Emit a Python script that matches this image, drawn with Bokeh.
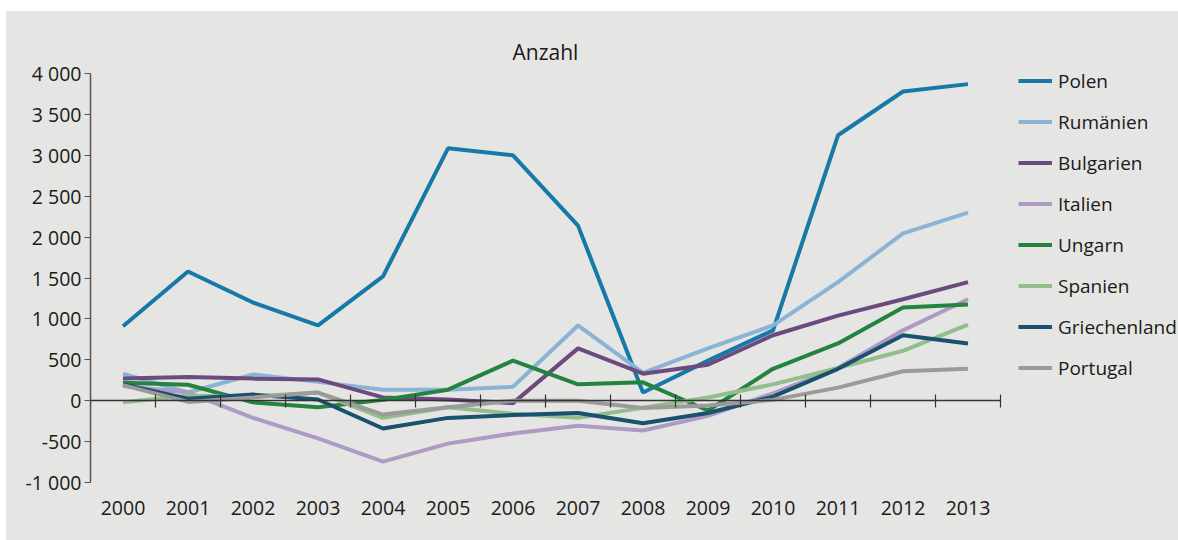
from bokeh.plotting import figure
from bokeh.models import (Range1d, LinearAxis, FixedTicker, Legend, LegendItem, Spacer, Label)
from bokeh.layouts import column, row
from bokeh.embed import file_html
from bokeh.resources import INLINE

years = ["2000", "2001", "2002", "2003", "2004", "2005", "2006",
         "2007", "2008", "2009", "2010", "2011", "2012", "2013"]

polen = [910, 1580, 1200, 920, 1520, 3085, 3000, 2140, 100, 490, 860, 3245, 3780, 3870]
rumaenien = [330, 100, 320, 230, 135, 135, 170, 920, 340, 640, 920, 1450, 2045, 2300]
bulgarien = [270, 290, 270, 260, 40, 15, -30, 640, 330, 440, 800, 1040, 1240, 1450]
italien = [180, 100, -210, -460, -745, -525, -400, -305, -365, -185, 90, 400, 860, 1240]
ungarn = [220, 195, -20, -80, 10, 135, 490, 200, 225, -120, 390, 700, 1140, 1175]
spanien = [-20, 60, 50, 100, -210, -80, -160, -210, -85, 40, 200, 400, 610, 930]
griechenland = [200, 25, 75, 15, -340, -210, -175, -150, -275, -150, 50, 390, 800, 700]
portugal = [190, -15, 40, 100, -170, -80, 0, 0, -90, -60, 10, 160, 360, 390]

series_names = ["Polen", "Rumänien", "Bulgarien", "Italien", "Ungarn",
                "Spanien", "Griechenland", "Portugal"]
series_values = [polen, rumaenien, bulgarien, italien, ungarn,
                 spanien, griechenland, portugal]
series_colors = ["#1779a7", "#8ab3d6", "#6c4a7d", "#ae9bc3", "#24843f",
                 "#92be8b", "#19516f", "#9b9b9b"]

y_ticks = [-1000, -500, 0, 500, 1000, 1500, 2000, 2500, 3000, 3500, 4000]
y_labels = ["-1 000", "-500", "0", "500", "1 000", "1 500", "2 000",
            "2 500", "3 000", "3 500", "4 000"]
unit_label = "Anzahl"

FONT = "Open Sans"
FS = "19.5px"
TXT = "#1a1a1a"
BG = "#e5e5e3"

n = len(years)
x = list(range(n))

# layout: category area is 910 px wide (65 px per year), value axis 409 px
# for 5000 units; the frame is extended right (legend) and up (unit label)
FIG_W, FIG_H = 1172, 529
LEFT, TOP, BOTTOM = 84, 30, 58
frame_w = FIG_W - LEFT
frame_h = FIG_H - TOP - BOTTOM
cat_px = 910 / n
val_px = 409 / 5000
x_end = -0.5 + frame_w / cat_px
y_end = -1000 + frame_h / val_px

p = figure(width=FIG_W, height=FIG_H, output_backend="svg", toolbar_location=None,
           x_range=Range1d(-0.5, x_end), y_range=Range1d(-1000, y_end),
           x_axis_location=None, y_axis_location=None,
           min_border_left=LEFT, min_border_right=0, min_border_top=TOP,
           min_border_bottom=BOTTOM)
p.background_fill_color = None
p.border_fill_color = None
p.styles = {"background-color": BG}
p.outline_line_color = None
p.xgrid.visible = False
p.ygrid.visible = False

# y axis
yax = LinearAxis(ticker=FixedTicker(ticks=y_ticks), bounds=(-1000, 4000),
                 major_label_overrides={t: l for t, l in zip(y_ticks, y_labels)})
yax.axis_line_color = "#555555"
yax.axis_line_width = 1.5
yax.major_tick_line_color = "#555555"
yax.major_tick_line_width = 1.2
yax.major_tick_in = 0
yax.major_tick_out = 6
yax.minor_tick_line_color = None
yax.major_label_standoff = 3
yax.major_label_text_font = FONT
yax.major_label_text_font_size = FS
yax.major_label_text_color = TXT
p.add_layout(yax, "left")

# category labels at the bottom
xlab = LinearAxis(ticker=FixedTicker(ticks=x),
                  major_label_overrides={i: y for i, y in zip(x, years)})
xlab.axis_line_color = None
xlab.major_tick_line_color = None
xlab.minor_tick_line_color = None
xlab.major_tick_out = 0
xlab.major_tick_in = 0
xlab.major_label_standoff = 18
xlab.major_label_text_font = FONT
xlab.major_label_text_font_size = FS
xlab.major_label_text_color = TXT
p.add_layout(xlab, "below")

# zero line axis with ticks between categories
bounds = [i - 0.5 for i in range(n + 1)]
zax = LinearAxis(ticker=FixedTicker(ticks=bounds), fixed_location=0,
                 bounds=(-0.5, n - 0.5))
zax.axis_line_color = "#333333"
zax.axis_line_width = 1.5
zax.major_tick_line_color = "#333333"
zax.major_tick_line_width = 1.2
zax.major_tick_in = 6
zax.major_tick_out = 7
zax.minor_tick_line_color = None
zax.major_label_text_font_size = "0px"
zax.major_label_text_color = None
zax.major_label_standoff = 0
p.add_layout(zax, "below")

# unit label above the category area
p.add_layout(Label(x=(n - 1) / 2, y=frame_h - 10, y_units="screen", text=unit_label,
                   text_align="center", text_baseline="middle",
                   text_font=FONT, text_font_size="21px", text_color=TXT))

items = []
for name, vals, col in zip(series_names, series_values, series_colors):
    r = p.line(x, vals, line_color=col, line_width=4)
    items.append(LegendItem(label=name, renderers=[r]))

legend = Legend(items=items, location=(928, 101))
legend.background_fill_color = None
legend.border_line_color = None
legend.margin = 0
legend.padding = 0
legend.glyph_width = 34
legend.glyph_height = 27
legend.label_height = 27
legend.spacing = 14
legend.label_standoff = 6
legend.label_text_font = FONT
legend.label_text_font_size = "19px"
legend.label_text_color = TXT
p.add_layout(legend, "center")

layout = column(Spacer(height=11), row(Spacer(width=6), p))

open("out.html", "w").write(file_html(layout, INLINE))
